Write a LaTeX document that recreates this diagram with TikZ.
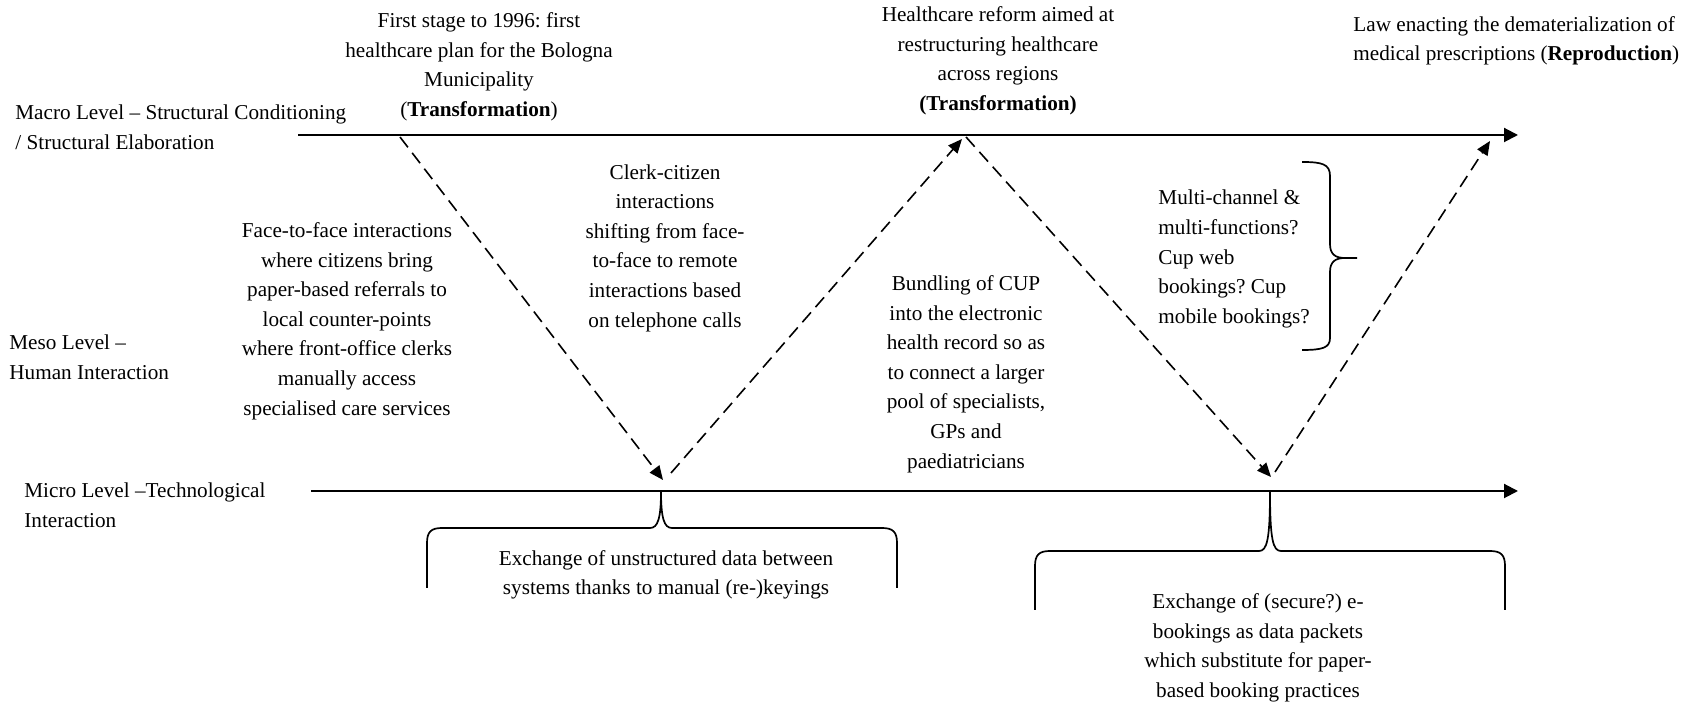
\documentclass[tikz,border=0pt]{standalone}
\usepackage{fontspec}
\setmainfont{Liberation Serif}
\usetikzlibrary{arrows.meta,positioning,calc}
\frenchspacing

\begin{document}
\begin{tikzpicture}[
    x=0.5pt, y=-0.5pt,
    every node/.style={inner sep=0pt, font=\fontsize{10.6}{14.8}\selectfont},
    event/.style={align=center},
    levelname/.style={anchor=west, align=left},
    timeline/.style={line width=1pt, -{Triangle[length=7pt,width=7pt]}},
    dashedarrow/.style={line width=0.8pt, dash pattern=on 6.5pt off 3.5pt, -{Triangle[length=7pt,width=6pt]}},
    brace/.style={line width=0.85pt}
]
    \useasboundingbox (0,0) rectangle (1698,704);

    \node[levelname] (macro) at (15,127) {Macro Level -- Structural Conditioning\\/ Structural Elaboration};
    \node[levelname] (meso) at (9,357) {Meso Level --\\Human Interaction};
    \node[levelname] (micro) at (24,505) {Micro Level --Technological\\Interaction};

    \node[event] (plan) at (479,67) {First stage to 1996: first\\healthcare plan for the Bologna\\Municipality\\(\textbf{Transformation})};
    \node[event] (reform) at (998,61) {Healthcare reform aimed at\\restructuring healthcare\\across regions\\\textbf{(Transformation)}};
    \node[levelname] (law) at (1353,41) {Law enacting the dematerialization of\\medical prescriptions (\textbf{Reproduction})};

    \node[event] (facetoface) at (347,321) {Face-to-face interactions\\where citizens bring\\paper-based referrals to\\local counter-points\\where front-office clerks\\manually access\\specialised care services};
    \node[event] (clerk) at (665,248) {Clerk-citizen\\interactions\\shifting from face-\\to-face to remote\\interactions based\\on telephone calls};
    \node[event] (bundling) at (966,374) {Bundling of CUP\\into the electronic\\health record so as\\to connect a larger\\pool of specialists,\\GPs and\\paediatricians};
    \node[levelname] (multi) at (1158,259) {Multi-channel \&\\multi-functions?\\Cup web\\bookings? Cup\\mobile bookings?};

    \node[event] (rekey) at (666,575) {Exchange of unstructured data between\\systems thanks to manual (re-)keyings};
    \node[event] (ebook) at (1258,648) {Exchange of (secure?) e-\\bookings as data packets\\which substitute for paper-\\based booking practices};

    \coordinate (macroL) at (298,135);
    \coordinate (macroR) at (1518,135);
    \coordinate (microL) at (311,491);
    \coordinate (microR) at (1518,491);
    \draw[timeline] (macroL) -- (macroR);
    \draw[timeline] (microL) -- (microR);

    \coordinate (a1) at (400,137);
    \coordinate (a2) at (663,480);
    \coordinate (a3) at (671,473);
    \coordinate (a4) at (962,139);
    \coordinate (a5) at (966,137);
    \coordinate (a6) at (1271,477);
    \coordinate (a7) at (1275,472);
    \coordinate (a8) at (1490,141);
    \draw[dashedarrow] (a1) -- (a2);
    \draw[dashedarrow] (a3) -- (a4);
    \draw[dashedarrow] (a5) -- (a6);
    \draw[dashedarrow] (a7) -- (a8);

    \draw[brace] (427,588) -- (427,543) .. controls (427,532) and (431,528) .. (442,528) -- (650,528)
        .. controls (658,528) and (661,518) .. (661,491) .. controls (661,518) and (664,528) .. (672,528)
        -- (882,528) .. controls (893,528) and (897,532) .. (897,543) -- (897,588);
    \draw[brace] (1035,610) -- (1035,566) .. controls (1035,555) and (1039,551) .. (1050,551) -- (1259,551)
        .. controls (1267,551) and (1270,540) .. (1270,491) .. controls (1270,540) and (1273,551) .. (1281,551)
        -- (1490,551) .. controls (1501,551) and (1505,555) .. (1505,566) -- (1505,610);
    \draw[brace] (1302,162) .. controls (1322,162) and (1330,164) .. (1330,176) -- (1330,244)
        .. controls (1330,254) and (1335,258) .. (1345,258) -- (1357,258) -- (1345,258)
        .. controls (1335,258) and (1330,262) .. (1330,272) -- (1330,338)
        .. controls (1330,348) and (1322,350) .. (1302,350);
\end{tikzpicture}
\end{document}
